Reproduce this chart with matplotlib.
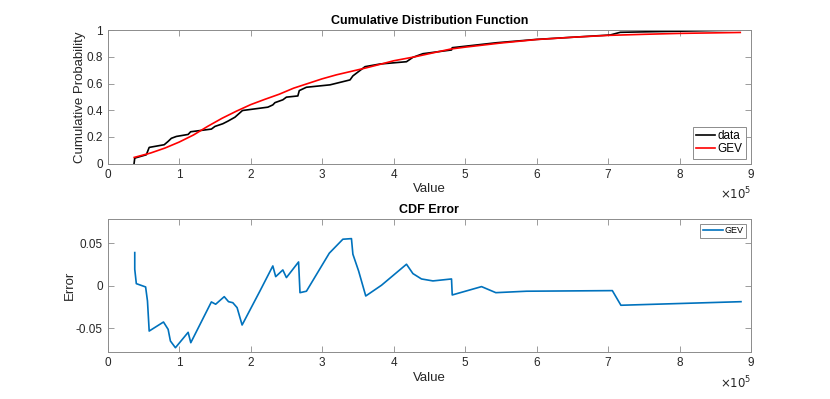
import matplotlib
matplotlib.use('Agg')
import matplotlib.pyplot as plt
import numpy as np

# empirical cdf of the sample (x in units of 1e5)
data_x = [0.368, 0.378, 0.54, 0.58, 0.79, 0.845, 0.89, 0.96, 1.125, 1.16, 1.45, 1.50,
          1.61, 1.68, 1.78, 1.885, 2.24, 2.31, 2.34, 2.45, 2.50, 2.66, 2.68, 2.78,
          3.11, 3.39, 3.43, 3.60, 3.81, 4.18, 4.27, 4.41, 4.81, 4.82, 5.44, 6.00,
          7.03, 7.17, 8.85]
data_F = [0.0, 0.042, 0.067, 0.122, 0.142, 0.167, 0.19, 0.204, 0.219, 0.239, 0.259, 0.279,
          0.299, 0.318, 0.348, 0.398, 0.423, 0.440, 0.457, 0.478, 0.498, 0.507, 0.547, 0.572,
          0.590, 0.627, 0.657, 0.726, 0.746, 0.763, 0.796, 0.823, 0.851, 0.868, 0.905, 0.930,
          0.963, 0.983, 1.0]

# fitted GEV cdf
gev_x = [0.37, 0.6, 0.8, 1.0, 1.2, 1.4, 1.6, 1.8, 2.0, 2.2, 2.4, 2.6, 2.8, 3.0, 3.2, 3.4,
         3.6, 3.8, 4.0, 4.3, 4.6, 4.8, 5.0, 5.5, 6.0, 6.5, 7.0, 7.5, 8.0, 8.5, 8.85]
gev_F = [0.047, 0.08, 0.117, 0.162, 0.215, 0.28, 0.34, 0.393, 0.442, 0.482, 0.52, 0.565,
         0.60, 0.635, 0.665, 0.69, 0.715, 0.742, 0.77, 0.80, 0.835, 0.858, 0.872, 0.903,
         0.929, 0.946, 0.96, 0.968, 0.975, 0.979, 0.982]

# cdf error (GEV - data)
err_x = [0.378, 0.378, 0.40, 0.53, 0.556, 0.58, 0.78, 0.845, 0.877, 0.947, 1.125, 1.162,
         1.45, 1.51, 1.63, 1.69, 1.75, 1.81, 1.88, 2.13, 2.31, 2.35, 2.45, 2.50, 2.67,
         2.69, 2.78, 3.10, 3.29, 3.41, 3.43, 3.51, 3.61, 3.83, 4.18, 4.27, 4.39, 4.55,
         4.81, 4.82, 5.23, 5.43, 5.86, 7.06, 7.18, 8.86]
err_val = [0.0392, 0.0196, 0.0027, -0.0012, -0.0177, -0.0530, -0.0424, -0.0510, -0.0647,
           -0.0726, -0.0545, -0.0667, -0.0188, -0.0215, -0.0126, -0.0185, -0.0197, -0.0255,
           -0.0459, -0.0059, 0.0235, 0.0109, 0.0188, 0.0098, 0.0282, -0.0079, -0.0062,
           0.0385, 0.0549, 0.0556, 0.0373, 0.0176, -0.0118, 0.0008, 0.0255, 0.0145, 0.0082,
           0.0059, 0.0082, -0.0106, -0.0008, -0.0079, -0.0062, -0.0055, -0.0227, -0.0185]

plt.rcParams['font.family'] = ['Liberation Sans', 'DejaVu Sans']
txt = '#262626'
spine = '#8c8c8c'

fig = plt.figure(figsize=(8.3, 3.99), dpi=100)
ax1 = fig.add_axes([0.1298, 0.5897, 0.775, 0.335])
ax2 = fig.add_axes([0.1298, 0.117, 0.775, 0.334])

def style(ax):
    for s in ax.spines.values():
        s.set_color(spine)
        s.set_linewidth(0.7)
    ax.tick_params(direction='in', top=True, right=True, length=4, width=0.6,
                   colors=spine, labelcolor=txt, labelsize=8.5)
    ax.set_xlim(0, 9)
    ax.set_xticks(range(10))
    ax.text(1.0, -0.165, r'$\times10^5$', transform=ax.transAxes, ha='right', va='top',
            color=txt, fontsize=8.5)

# top: cdf
ax1.plot(data_x, data_F, color='black', lw=1.2, label='data')
ax1.plot(gev_x, gev_F, color='red', lw=1.2, label='GEV')
ax1.set_ylim(0, 1)
ax1.set_yticks([0, 0.2, 0.4, 0.6, 0.8, 1])
ax1.set_yticklabels(['0', '0.2', '0.4', '0.6', '0.8', '1'])
style(ax1)
ax1.set_title('Cumulative Distribution Function', fontsize=9, fontweight='bold', color='black', pad=4)
ax1.set_xlabel('Value', fontsize=9.5, color=txt, labelpad=2)
ax1.set_ylabel('Cumulative Probability', fontsize=9.5, color=txt, labelpad=0)
leg = ax1.legend(loc='lower right', fontsize=8.5, handlelength=1.6, handletextpad=0.2,
                 borderpad=0.3, labelspacing=0.1, fancybox=False, framealpha=1, borderaxespad=0.4)
leg.get_frame().set_edgecolor(spine)
leg.get_frame().set_linewidth(0.7)

# bottom: error
ax2.plot(err_x, err_val, color='#0072BD', lw=1.2, label='GEV')
ax2.set_ylim(-0.078, 0.0786)
ax2.set_yticks([-0.05, 0, 0.05])
ax2.set_yticklabels(['-0.05', '0', '0.05'])
style(ax2)
ax2.set_title('CDF Error', fontsize=9, fontweight='bold', color='black', pad=4)
ax2.set_xlabel('Value', fontsize=9.5, color=txt, labelpad=2)
ax2.set_ylabel('Error', fontsize=9.5, color=txt, labelpad=0)
leg2 = ax2.legend(loc='upper right', fontsize=6.5, handlelength=2.2, handletextpad=0.2,
                  borderpad=0.3, fancybox=False, framealpha=1, borderaxespad=0.5)
leg2.get_frame().set_edgecolor(spine)
leg2.get_frame().set_linewidth(0.7)

fig.savefig('out.png', dpi=100)
